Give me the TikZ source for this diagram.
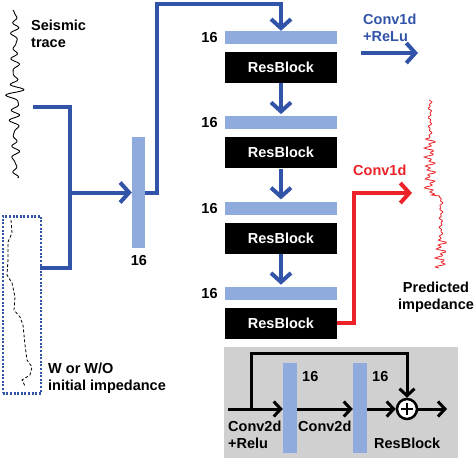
\documentclass[tikz,border=0pt]{standalone}
\usepackage{fontspec}
\setmainfont{Liberation Sans}
\usetikzlibrary{arrows.meta, positioning}
\definecolor{netblue}{RGB}{50,84,168}
\definecolor{barblue}{RGB}{143,170,220}
\definecolor{outred}{RGB}{235,35,40}
\definecolor{boxgray}{RGB}{208,208,208}

\begin{document}
\begin{tikzpicture}[x=1pt, y=-1pt, font=\fontsize{14.5}{17}\selectfont\bfseries,
  wire/.style={netblue, line width=4pt},
  flow/.style={wire, -{Straight Barb[length=9pt,width=20pt]}},
  res/.style={black, line width=3pt, -{Straight Barb[length=7pt,width=15pt]}},
  label/.style={inner sep=0, align=left}]
  \useasboundingbox (0,0) rectangle (474,459);

  % Input traces
  \draw[line width=0.9pt] plot[smooth, domain=10:178, samples=200]
    ({15+(4+5.5*exp(-((\x-98)/18)^2))*(sin(29*\x)+0.55*sin(41*\x+20)+0.4*sin(17*\x+70))/1.6}, \x);
  \node[label, anchor=north west] (seislab) at (31,20) {Seismic\\trace};
  \node[draw=netblue, line width=2.5pt, dash pattern=on 2pt off 1.6pt, inner sep=0,
        minimum width=38pt, minimum height=177pt, anchor=north west] (initbox) at (1.5,215) {};
  \draw[dash pattern=on 3pt off 2pt, line width=0.8pt] (11,220) -- (12,233) -- (8,242) -- (8,260)
    -- (7,275) -- (12,283) -- (15,297) -- (14,310) -- (20,317) -- (23,325) -- (25,345)
    -- (27,360) -- (32,367) -- (30,375) -- (22,380) -- (25,386);
  \node[label, anchor=north west] (initlab) at (48,363) {W or W/O\\initial impedance};

  % First layer
  \node[fill=barblue, inner sep=0, minimum width=13pt, minimum height=111pt] (inbar) at (138.5,192.5) {};
  \node[inner sep=0, anchor=north] (inlab) at (139,255) {16};
  \coordinate (seisout) at (33,107);
  \coordinate (initout) at (40,268);
  \coordinate (merge) at (70,192.5);
  \coordinate (topturn) at (157,4);
  \draw[wire] (seisout) -| (merge) |- (initout);
  \draw[flow] (merge) -- (inbar.west);

  % ResBlock stack
  \foreach \i in {1,...,4} {
    \node[fill=barblue, inner sep=0, minimum width=112pt, minimum height=13pt] (bar\i) at (281,{37.5+85.3*(\i-1)}) {};
    \node[inner sep=0, anchor=east] (lab\i) at ([xshift=-7pt]bar\i.west) {16};
    \node[fill=black, text=white, inner sep=0, minimum width=112pt, minimum height=31pt] (rb\i) at (281,{67.5+85.3*(\i-1)}) {ResBlock};
  }
  \draw[flow] (inbar.east) -| (topturn) -| (bar1.north);
  \foreach \i [count=\j from 2] in {1,2,3}
    \draw[flow, shorten >=2pt] (rb\i.south) -- (bar\j.north);

  % Conv1d + ReLu legend
  \node[label, anchor=north west, text=netblue] (relulab) at (363,14) {Conv1d\\+ReLu};
  \coordinate (reluA) at (361,53);
  \coordinate (reluB) at (418,53);
  \draw[flow] (reluA) -- (reluB);

  % Output
  \node[label, anchor=north west, text=outred] (convlab) at (353,165) {Conv1d};
  \coordinate (redturn) at (354,193);
  \coordinate (predin) at (412,193);
  \draw[outred, line width=4pt, -{Straight Barb[length=9pt,width=20pt]}] (rb4.east) -| (redturn) -- (predin);
  \draw[outred, line width=0.8pt] plot[domain=100:268, samples=169]
    ({ifthenelse(\x<196,430,441)+ifthenelse(\x>138 && \x<196 || \x>238,6,2)*sin(59*\x)*cos(23*\x)}, \x);
  \node[inner sep=0, anchor=north, align=center] (predlab) at (436,282) {Predicted\\impedance};

  % ResBlock detail
  \node[fill=boxgray, inner sep=0, minimum width=234pt, minimum height=111pt, anchor=north west] (resbox) at (224,347) {};
  \node[fill=barblue, inner sep=0, minimum width=14pt, minimum height=90pt] (resA) at (290,408) {};
  \node[fill=barblue, inner sep=0, minimum width=14pt, minimum height=90pt] (resB) at (360,408) {};
  \node[inner sep=0, anchor=north west] (labA) at (302,371) {16};
  \node[inner sep=0, anchor=north west] (labB) at (372,371) {16};
  \node[draw, circle, line width=2.5pt, fill=white, minimum size=20pt, inner sep=0] (sum) at (407,409) {};
  \draw[line width=2pt] (sum.center) ++(-6,0) -- ++(12,0);
  \draw[line width=2pt] (sum.center) ++(0,-6) -- ++(0,12);
  \coordinate (resin) at (228,409);
  \coordinate (skipup) at (251,353);
  \coordinate (resout) at (447,409);
  \draw[res] (resin) -- (resA.west |- resin);
  \draw[res] (resA.east |- resin) -- (resB.west |- resin);
  \draw[res] (resB.east |- resin) -- (sum.west);
  \draw[res] (sum.east) -- (resout);
  \draw[res] (skipup |- resin) -- (skipup) -| (sum.north);
  \node[label, anchor=north west] (convA) at (228,421) {Conv2d\\+Relu};
  \node[label, anchor=north west] (convB) at (298,421) {Conv2d};
  \node[label, anchor=north west] (reslab) at (374,438) {ResBlock};
\end{tikzpicture}
\end{document}
